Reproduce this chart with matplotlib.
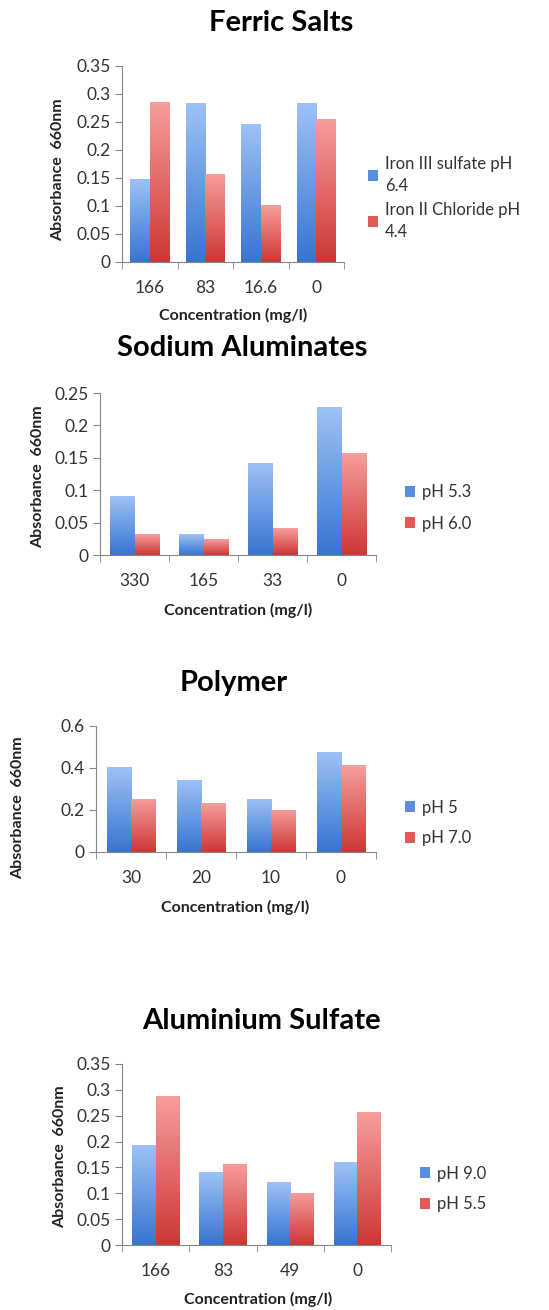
import matplotlib
matplotlib.use('Agg')
import matplotlib.pyplot as plt
import numpy as np
from matplotlib.colors import LinearSegmentedColormap
from matplotlib.patches import Patch

plt.rcParams['font.family'] = ['Lato', 'DejaVu Sans']

# data
ferric_conc = ['166', '83', '16.6', '0']
ferric_iron3 = [0.149, 0.284, 0.247, 0.284]
ferric_iron2 = [0.286, 0.158, 0.101, 0.256]

sodium_conc = ['330', '165', '33', '0']
sodium_ph53 = [0.091, 0.032, 0.142, 0.228]
sodium_ph60 = [0.032, 0.024, 0.041, 0.158]

polymer_conc = ['30', '20', '10', '0']
polymer_ph5 = [0.404, 0.344, 0.253, 0.478]
polymer_ph70 = [0.253, 0.233, 0.201, 0.412]

alum_conc = ['166', '83', '49', '0']
alum_ph90 = [0.193, 0.141, 0.121, 0.160]
alum_ph55 = [0.288, 0.157, 0.101, 0.257]

W, H = 549, 1310
blue_cmap = LinearSegmentedColormap.from_list('b', ['#3774d0', '#9ec2f6'])
red_cmap = LinearSegmentedColormap.from_list('r', ['#cc3733', '#f79e9d'])
grad = np.linspace(0, 1, 256).reshape(-1, 1)

fig = plt.figure(figsize=(W / 100, H / 100), dpi=100)


def px_axes(left, right, top, bottom):
    return fig.add_axes([left / W, 1 - bottom / H, (right - left) / W, (bottom - top) / H])


def gradient_bars(ax, bars, cmap):
    for b in bars:
        x, w, h = b.get_x(), b.get_width(), b.get_height()
        im = ax.imshow(grad, extent=[x, x + w, 0, h], origin='lower', aspect='auto',
                       cmap=cmap, zorder=2)
        im.set_clip_path(b)


def panel(box, cats, s1, s2, labels, ymax, ystep, yfmt, title, title_xy,
          ylab_xy, xlab_xy, leg_xy, leg_space):
    ax = px_axes(*box)
    x = np.arange(len(cats))
    bw = 0.35
    b1 = ax.bar(x - bw / 2, s1, bw, color='#6a9be5', linewidth=0, zorder=1)
    b2 = ax.bar(x + bw / 2, s2, bw, color='#e56b69', linewidth=0, zorder=1)
    gradient_bars(ax, b1, blue_cmap)
    gradient_bars(ax, b2, red_cmap)
    ax.set_xlim(-0.5, len(cats) - 0.5)
    ax.set_ylim(0, ymax)
    yt = np.arange(0, ymax + 1e-9, ystep)
    ax.set_yticks(yt)
    ax.set_yticklabels([yfmt(v) for v in yt])
    ax.set_xticks(x)
    ax.set_xticklabels(cats)
    ax.set_xticks(np.arange(-0.5, len(cats)), minor=True)
    ax.tick_params(axis='x', which='major', length=0, pad=13, labelsize=12.5, labelcolor='#333333')
    ax.tick_params(axis='x', which='minor', length=5, color='#868686', direction='out')
    ax.tick_params(axis='y', length=5, color='#868686', labelsize=12.5, labelcolor='#333333', pad=3)
    for s in ['top', 'right']:
        ax.spines[s].set_visible(False)
    for s in ['left', 'bottom']:
        ax.spines[s].set_color('#868686')
    fig.text(title_xy[0] / W, 1 - title_xy[1] / H, title, ha='center', va='center',
             fontsize=21, fontweight='bold', color='black')
    fig.text(ylab_xy[0] / W, 1 - ylab_xy[1] / H, 'Absorbance  660nm', rotation=90,
             ha='center', va='center', fontsize=11.5, fontweight='bold', color='#222222')
    fig.text(xlab_xy[0] / W, 1 - xlab_xy[1] / H, 'Concentration (mg/l)', ha='center',
             va='center', fontsize=11.5, fontweight='bold', color='#222222')
    handles = [Patch(facecolor='#5a8ee0'), Patch(facecolor='#e05a58')]
    leg = ax.legend(handles, labels, loc='center left',
                    bbox_to_anchor=(leg_xy[0] / W, 1 - leg_xy[1] / H),
                    bbox_transform=fig.transFigure, frameon=False, borderaxespad=0, borderpad=0,
                    handlelength=0.6, handleheight=0.6, handletextpad=0.4, labelspacing=leg_space,
                    fontsize=12, labelcolor='#333333')
    for t in leg.get_texts():
        t.set_linespacing(1.45)
    return ax


def f2(v):
    s = ('%.2f' % v).rstrip('0').rstrip('.')
    return s if s else '0'


panel((122, 344, 66, 262), ferric_conc, ferric_iron3, ferric_iron2,
      ['Iron III sulfate pH\n6.4', 'Iron II Chloride pH\n4.4'], 0.35, 0.05, f2,
      'Ferric Salts', (281, 23), (58, 170), (233, 315), (368, 198), 0.5)

panel((100, 376, 393, 555), sodium_conc, sodium_ph53, sodium_ph60,
      ['pH 5.3', 'pH 6.0'], 0.25, 0.05, f2,
      'Sodium Aluminates', (242, 348), (38, 477), (238, 610), (405, 508), 0.9)

panel((96, 376, 726, 852), polymer_conc, polymer_ph5, polymer_ph70,
      ['pH 5', 'pH 7.0'], 0.6, 0.2, f2,
      'Polymer', (234, 683), (18, 808), (235, 907), (405, 823), 0.9)

panel((122, 391, 1064, 1245), alum_conc, alum_ph90, alum_ph55,
      ['pH 9.0', 'pH 5.5'], 0.35, 0.05, f2,
      'Aluminium Sulfate', (261, 1021), (60, 1157), (258, 1299), (420, 1189), 0.9)

fig.savefig('out.png', dpi=100, facecolor='white')
